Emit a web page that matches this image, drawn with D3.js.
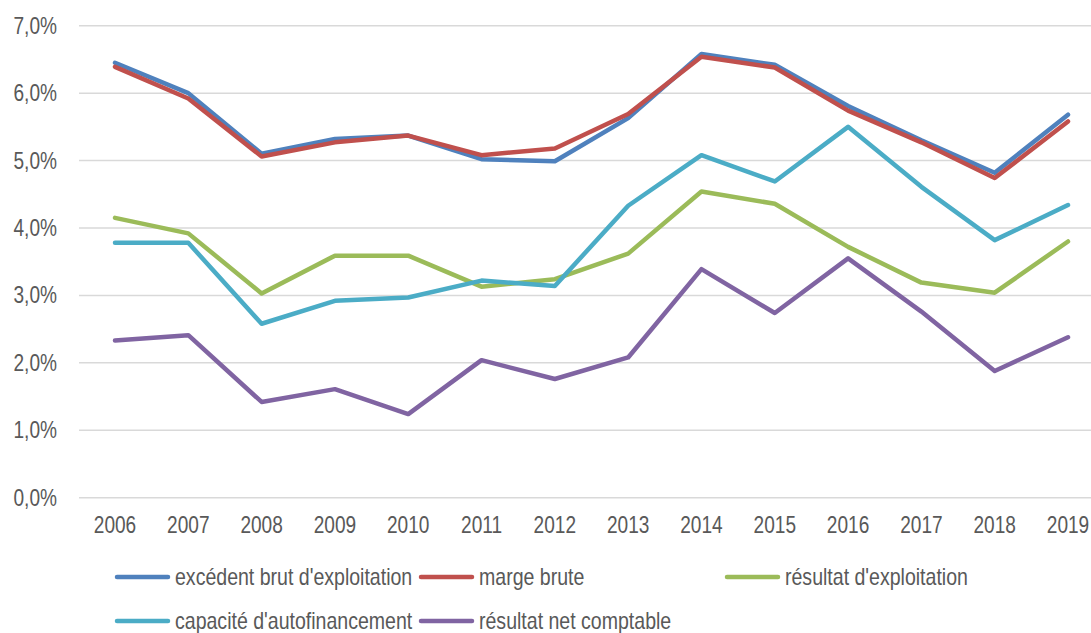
<!DOCTYPE html>
<html>
<head>
<meta charset="utf-8">
<script src="https://cdn.jsdelivr.net/npm/d3@7"></script>
<style>
  body { margin: 0; background: #fff; }
  text { font-family: "Liberation Sans Narrow", "Arial Narrow", "Liberation Sans", sans-serif; fill: #595959; }
</style>
</head>
<body>
<div id="chart"></div>
<script>
var years = ["2006","2007","2008","2009","2010","2011","2012","2013","2014","2015","2016","2017","2018","2019"];
var ebe = [6.45, 6.00, 5.10, 5.32, 5.37, 5.02, 4.99, 5.63, 6.58, 6.42, 5.81, 5.30, 4.82, 5.68];
var margeBrute = [6.39, 5.92, 5.06, 5.27, 5.37, 5.08, 5.18, 5.69, 6.54, 6.38, 5.74, 5.27, 4.74, 5.58];
var resultatExpl = [4.15, 3.92, 3.03, 3.59, 3.59, 3.13, 3.24, 3.62, 4.54, 4.36, 3.72, 3.19, 3.04, 3.80];
var caf = [3.78, 3.78, 2.58, 2.92, 2.97, 3.22, 3.14, 4.33, 5.08, 4.69, 5.50, 4.61, 3.82, 4.34];
var resultatNet = [2.33, 2.41, 1.42, 1.61, 1.24, 2.04, 1.76, 2.08, 3.39, 2.74, 3.55, 2.76, 1.88, 2.38];
var yTicks = [0, 1, 2, 3, 4, 5, 6, 7];

var series = [
  { name: "excédent brut d'exploitation", values: ebe, color: "#4F81BD" },
  { name: "marge brute", values: margeBrute, color: "#C0504D" },
  { name: "résultat d'exploitation", values: resultatExpl, color: "#9BBB59" },
  { name: "capacité d'autofinancement", values: caf, color: "#4BACC6" },
  { name: "résultat net comptable", values: resultatNet, color: "#8064A2" }
];

var width = 1091, height = 633;
var narrow = 0.83; // no narrow font installed, squeeze the regular one

var svg = d3.select("#chart").append("svg")
    .attr("width", width)
    .attr("height", height);

var x = d3.scalePoint().domain(years).range([115, 1068]);
var y = d3.scaleLinear().domain([0, 7]).range([497.7, 25.7]);

function place(px, py, sx) {
  return "translate(" + px + "," + py + ") scale(" + (sx || narrow) + ",1)";
}

// gridlines
svg.append("g").selectAll("line")
  .data(yTicks)
  .enter().append("line")
    .attr("x1", 79).attr("x2", 1091)
    .attr("y1", function(d) { return y(d); })
    .attr("y2", function(d) { return y(d); })
    .attr("stroke", "#D9D9D9")
    .attr("stroke-width", 1.5);

// y labels
svg.append("g").selectAll("text")
  .data(yTicks)
  .enter().append("text")
    .attr("transform", function(d) { return place(57, y(d)); })
    .attr("dy", "0.35em")
    .attr("text-anchor", "end")
    .style("font-size", "23px")
    .text(function(d) { return d.toFixed(1).replace(".", ",") + "%"; });

// x labels
svg.append("g").selectAll("text")
  .data(years)
  .enter().append("text")
    .attr("transform", function(d) { return place(x(d), 525); })
    .attr("dy", "0.35em")
    .attr("text-anchor", "middle")
    .style("font-size", "23px")
    .text(function(d) { return d; });

var line = d3.line()
    .x(function(d, i) { return x(years[i]); })
    .y(function(d) { return y(d); });

svg.append("g").selectAll("path")
  .data(series)
  .enter().append("path")
    .attr("d", function(d) { return line(d.values); })
    .attr("fill", "none")
    .attr("stroke", function(d) { return d.color; })
    .attr("stroke-width", 4.5)
    .attr("stroke-linejoin", "round")
    .attr("stroke-linecap", "round");

// legend
var legendPos = [[117, 577], [421, 577], [727, 577], [117, 621], [421, 621]];
var legend = svg.append("g").selectAll("g")
  .data(series)
  .enter().append("g")
    .attr("transform", function(d, i) { return "translate(" + legendPos[i][0] + "," + legendPos[i][1] + ")"; });

legend.append("line")
    .attr("x1", 0).attr("x2", 51)
    .attr("stroke", function(d) { return d.color; })
    .attr("stroke-width", 4.5)
    .attr("stroke-linecap", "round");

legend.append("text")
    .attr("transform", place(58, 0, 0.85))
    .attr("dy", "0.35em")
    .style("font-size", "23px")
    .text(function(d) { return d.name; });
</script>
</body>
</html>
